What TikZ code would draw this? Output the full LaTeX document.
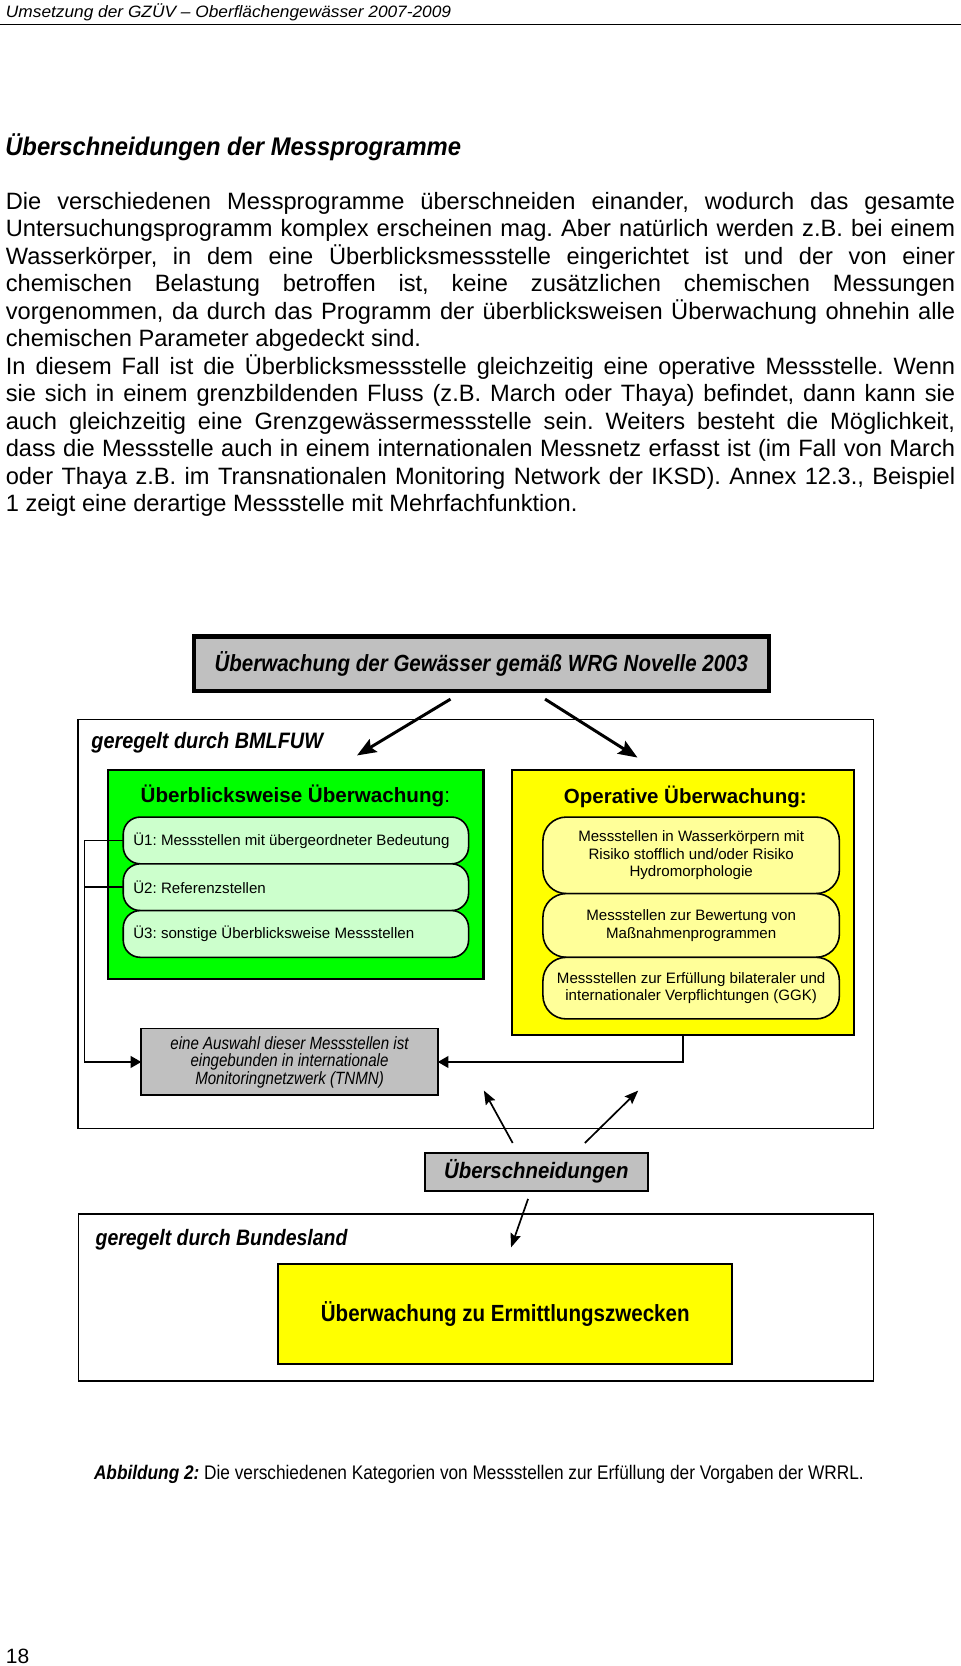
\documentclass[tikz,border=0pt]{standalone}
\usepackage{fontspec}
\setmainfont{Liberation Sans}
\newfontfamily\narrowfont[FakeStretch=0.85]{Liberation Sans}
\usepackage{graphicx}
\usetikzlibrary{arrows.meta}
\definecolor{boxgray}{HTML}{C0C0C0}
\definecolor{brightgreen}{HTML}{00FF00}
\definecolor{palegreen}{HTML}{CCFFCC}
\definecolor{brightyellow}{HTML}{FFFF00}
\definecolor{paleyellow}{HTML}{FFFF99}
\newcommand{\fitw}[2]{\resizebox{#1}{\height}{#2}}
\newcommand{\setfs}[2]{\fontsize{#1pt}{#2pt}\selectfont}
\newcommand{\jl}[1]{\hbox to 893.5pt{#1}}
\frenchspacing
\tikzset{
  txt/.style={inner sep=0pt, outer sep=0pt},
  bodyline/.style={txt, anchor=base west},
  outerbox/.style={draw, line width=1.3pt, inner sep=0pt, outer sep=0pt},
  topbox/.style={draw, line width=4pt, fill=boxgray, inner sep=0pt, outer sep=0pt},
  graybox/.style={draw, line width=1.8pt, fill=boxgray, inner sep=0pt, outer sep=0pt},
  greenbox/.style={draw, line width=2pt, fill=brightgreen, inner sep=0pt, outer sep=0pt},
  yellowbox/.style={draw, line width=2pt, fill=brightyellow, inner sep=0pt, outer sep=0pt},
  gpill/.style={draw, line width=1.5pt, fill=palegreen, rounded corners=16pt, inner sep=0pt, outer sep=0pt},
  ypill/.style={draw, line width=1.5pt, fill=paleyellow, rounded corners=22pt, inner sep=0pt, outer sep=0pt, align=center},
  bigarrow/.style={line width=2.8pt, -{Stealth[length=18pt, width=14pt, inset=3pt]}},
  smallarrow/.style={line width=1.6pt, -{Stealth[length=13pt, width=10pt, inset=2pt]}},
  conn/.style={line width=1.6pt},
  connarrow/.style={line width=1.6pt, -{Triangle[length=10pt, width=11pt]}}
}
\begin{document}
\begin{tikzpicture}[x=1pt, y=-1pt]
\fill[white] (0,0) rectangle (904,1568);
\useasboundingbox (0,0) rectangle (904,1568);

% page header
\node[txt, anchor=base west] (hdr) at (5.6,16.7) {\fitw{419pt}{\setfs{15.5}{18}\itshape Umsetzung der GZÜV – Oberflächengewässer 2007-2009}};
\draw[line width=1.1pt] (0,23) -- (904,23);

% heading
\node[txt, anchor=west] (head) at (5,139) {\fitw{429pt}{\setfs{24}{28}\bfseries\itshape Überschneidungen der Messprogramme}};

% body text
\begin{scope}[every node/.append style={font=\setfs{22.25}{25.9}}]
\node[bodyline] (b1) at (5.5,196.8) {\jl{Die verschiedenen Messprogramme überschneiden einander, wodurch das gesamte}};
\node[bodyline] (b2) at (5.5,222.7) {\jl{Untersuchungsprogramm komplex erscheinen mag. Aber natürlich werden z.B. bei einem}};
\node[bodyline] (b3) at (5.5,248.6) {\jl{Wasserkörper, in dem eine Überblicksmessstelle eingerichtet ist und der von einer}};
\node[bodyline] (b4) at (5.5,274.5) {\jl{chemischen Belastung betroffen ist, keine zusätzlichen chemischen Messungen}};
\node[bodyline] (b5) at (5.5,300.4) {\jl{vorgenommen, da durch das Programm der überblicksweisen Überwachung ohnehin alle}};
\node[bodyline] (b6) at (5.5,326.3) {chemischen Parameter abgedeckt sind.};
\node[bodyline] (b7) at (5.5,352.2) {\jl{In diesem Fall ist die Überblicksmessstelle gleichzeitig eine operative Messstelle. Wenn}};
\node[bodyline] (b8) at (5.5,378.1) {\jl{sie sich in einem grenzbildenden Fluss (z.B. March oder Thaya) befindet, dann kann sie}};
\node[bodyline] (b9) at (5.5,404.0) {\jl{auch gleichzeitig eine Grenzgewässermessstelle sein. Weiters besteht die Möglichkeit,}};
\node[bodyline] (b10) at (5.5,429.9) {\jl{dass die Messstelle auch in einem internationalen Messnetz erfasst ist (im Fall von March}};
\node[bodyline] (b11) at (5.5,455.8) {\jl{oder Thaya z.B. im Transnationalen Monitoring Network der IKSD). Annex 12.3., Beispiel}};
\node[bodyline] (b12) at (5.5,481.7) {1 zeigt eine derartige Messstelle mit Mehrfachfunktion.};
\end{scope}

% top box
\node[topbox, minimum width=541pt, minimum height=51pt] (top) at (453,624.5)
  {\fitw{502pt}{\setfs{22}{26}\bfseries\itshape Überwachung der Gewässer gemäß WRG Novelle 2003}};

% BMLFUW frame
\node[outerbox, minimum width=748.7pt, minimum height=385pt, anchor=north west] (bml) at (73.3,677) {};
\node[txt, anchor=west] (bmllab) at (86,699) {\fitw{218pt}{\setfs{21}{24}\bfseries\itshape geregelt durch BMLFUW}};

% arrows from top box
\coordinate (ta1) at (424,658);
\coordinate (te1) at (336,711);
\coordinate (ta2) at (513,658);
\coordinate (te2) at (600,713);
\draw[bigarrow] (ta1) -- (te1);
\draw[bigarrow] (ta2) -- (te2);

% green box
\node[greenbox, minimum width=353.6pt, minimum height=196pt, anchor=north west] (green) at (101.4,725) {};
\node[txt] (gtitle) at (278,749) {\setfs{19.4}{22}\textbf{Überblicksweise Überwachung}:};
\node[gpill, minimum width=325pt, minimum height=44pt, anchor=north west] (u1) at (116,769) {};
\node[gpill, minimum width=325pt, minimum height=44pt, anchor=north west] (u2) at (116,813) {};
\node[gpill, minimum width=325pt, minimum height=44pt, anchor=north west] (u3) at (116,857) {};
\node[txt, anchor=west] (u1t) at ([xshift=9.5pt]u1.west) {\setfs{14.2}{16}Ü1: Messstellen mit übergeordneter Bedeutung};
\node[txt, anchor=west] (u2t) at ([xshift=9.5pt]u2.west) {\setfs{14.2}{16}Ü2: Referenzstellen};
\node[txt, anchor=west] (u3t) at ([xshift=9.5pt]u3.west) {\setfs{14.2}{16}Ü3: sonstige Überblicksweise Messstellen};

% yellow box
\node[yellowbox, minimum width=322pt, minimum height=249.5pt, anchor=north west] (yellow) at (482,724.5) {};
\node[txt] (ytitle) at (645,750) {\setfs{19.3}{22}\textbf{Operative Überwachung:}};
\node[ypill, minimum width=279pt, minimum height=72pt, anchor=north west, font=\setfs{14.2}{16.5}] (o1) at (511,769)
  {Messstellen in Wasserkörpern mit\\Risiko stofflich und/oder Risiko\\Hydromorphologie};
\node[ypill, minimum width=279pt, minimum height=60pt, anchor=north west, font=\setfs{14.2}{16.5}] (o2) at (511,841)
  {Messstellen zur Bewertung von\\Maßnahmenprogrammen};
\node[ypill, minimum width=279pt, minimum height=58pt, anchor=north west, font=\setfs{14.2}{16.5}] (o3) at (511,901)
  {Messstellen zur Erfüllung bilateraler und\\internationaler Verpflichtungen (GGK)};

% TNMN box
\node[graybox, minimum width=279pt, minimum height=63pt, anchor=north west, align=center, font=\narrowfont\itshape\setfs{16.7}{16.5}] (tnmn) at (133,968)
  {eine Auswahl dieser Messstellen ist\\eingebunden in internationale\\Monitoringnetzwerk (TNMN)};

% connectors to TNMN
\coordinate (lx) at (79.4,0);
\draw[connarrow] (u1.west) -- (u1.west -| lx) |- (tnmn.west);
\draw[conn] (u2.west) -- (u2.west -| lx);
\draw[connarrow] (yellow.south) |- (tnmn.east);

% Ueberschneidungen
\node[graybox, minimum width=209.5pt, minimum height=35.6pt, anchor=north west] (ueb) at (400,1085)
  {\fitw{173.5pt}{\setfs{21}{24}\bfseries\itshape Überschneidungen}};
\coordinate (ua1) at (482.5,1075.7);
\coordinate (ue1) at (455.4,1026.4);
\coordinate (ua2) at (550.5,1075.7);
\coordinate (ue2) at (600.7,1026.4);
\coordinate (ua3) at (497,1128.4);
\coordinate (ue3) at (481,1174);
\draw[smallarrow] (ua1) -- (ue1);
\draw[smallarrow] (ua2) -- (ue2);
\draw[smallarrow] (ua3) -- (ue3);

% Bundesland frame
\node[outerbox, minimum width=748pt, minimum height=157pt, anchor=north west] (bund) at (74,1142.6) {};
\node[txt, anchor=west] (bundlab) at (90,1167) {\fitw{237pt}{\setfs{21}{24}\bfseries\itshape geregelt durch Bundesland}};
\node[yellowbox, minimum width=427pt, minimum height=94pt, anchor=north west] (ermitt) at (262,1190)
  {\fitw{347pt}{\setfs{22}{26}\bfseries Überwachung zu Ermittlungszwecken}};

% caption
\node[txt, anchor=west] (cap) at (88.5,1388) {\fitw{724.5pt}{\setfs{18.5}{21}\textbf{\textit{Abbildung 2:}} Die verschiedenen Kategorien von Messstellen zur Erfüllung der Vorgaben der WRRL.}};

% page number
\node[txt, anchor=base west] (pg) at (5.6,1565.5) {\fitw{22pt}{\setfs{19.5}{22}18}};
\end{tikzpicture}
\end{document}
